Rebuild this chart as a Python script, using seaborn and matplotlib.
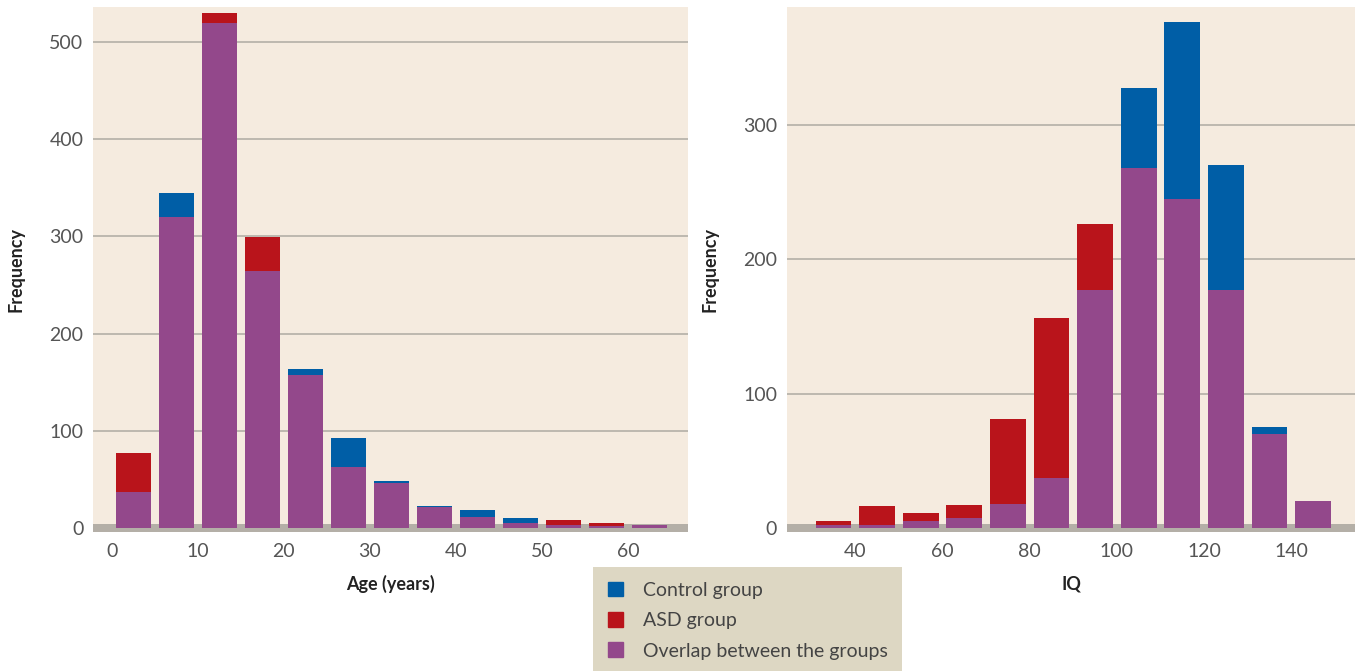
import numpy as np
import pandas as pd
import matplotlib
matplotlib.use("Agg")
import matplotlib.pyplot as plt
from matplotlib.patches import Patch
import seaborn as sns

# --- data (counts per bin) ---
age_centers = [2.5, 7.5, 12.5, 17.5, 22.5, 27.5, 32.5, 37.5, 42.5, 47.5, 52.5, 57.5, 62.5]
age_control = [37, 345, 520, 264, 163, 93, 48, 23, 18, 10, 3, 2, 3]
age_asd = [77, 320, 530, 299, 157, 63, 46, 21, 11, 5, 8, 5, 3]

iq_centers = [35, 45, 55, 65, 75, 85, 95, 105, 115, 125, 135, 145]
iq_control = [2, 2, 5, 7, 18, 37, 177, 328, 377, 270, 75, 20]
iq_asd = [5, 16, 11, 17, 81, 156, 226, 268, 245, 177, 70, 20]

age_xticks = [0, 10, 20, 30, 40, 50, 60]
age_yticks = [0, 100, 200, 300, 400, 500]
iq_xticks = [40, 60, 80, 100, 120, 140]
iq_yticks = [0, 100, 200, 300]

# colours
BG = "#f5ebdf"
BLUE = "#005ea6"
RED = "#b9141b"
PURPLE = "#93488b"
GRID = "#b9b4ac"
BAND = "#b4afa7"
TXT = "#555555"

sns.set_style("white")
plt.rcParams["font.family"] = ["Lato", "DejaVu Sans"]


def build_frame(centers, control, asd):
    df = pd.DataFrame({"center": centers, "control": control, "asd": asd})
    df["top"] = df[["control", "asd"]].max(axis=1)
    df["overlap"] = df[["control", "asd"]].min(axis=1)
    df["group"] = np.where(df["control"] >= df["asd"], "Control group", "ASD group")
    return df


def draw_panel(ax, df, xlim, ylim, xticks, yticks, xlabel):
    ax.set_facecolor(BG)
    pal = {"Control group": BLUE, "ASD group": RED}
    sns.barplot(data=df, x="center", y="top", hue="group", palette=pal,
                native_scale=True, dodge=False, width=0.82, saturation=1,
                errorbar=None, legend=False, linewidth=0, ax=ax, zorder=3)
    sns.barplot(data=df, x="center", y="overlap", color=PURPLE,
                native_scale=True, width=0.82, saturation=1,
                errorbar=None, linewidth=0, ax=ax, zorder=4)
    # gridlines and baseline band
    for t in yticks[1:]:
        ax.axhline(t, color=GRID, lw=1.3, zorder=1)
    ax.axhspan(ylim[0], -ylim[0], color=BAND, lw=0, zorder=2)
    ax.set_xlim(*xlim)
    ax.set_ylim(*ylim)
    ax.set_xticks(xticks)
    ax.set_yticks(yticks)
    ax.tick_params(axis="both", length=0, labelsize=14, labelcolor=TXT)
    ax.tick_params(axis="x", pad=8)
    ax.tick_params(axis="y", pad=7)
    for s in ax.spines.values():
        s.set_visible(False)
    ax.set_xlabel(xlabel, fontsize=13, fontweight="bold", color="#222222", labelpad=11)
    ax.set_ylabel("Frequency", fontsize=13, fontweight="bold", color="#222222", labelpad=18)


fig = plt.figure(figsize=(13.62, 6.71), dpi=100)
ax1 = fig.add_axes([0.0683, 0.2072, 0.4369, 0.7824])
ax2 = fig.add_axes([0.5778, 0.2072, 0.4170, 0.7824])

draw_panel(ax1, build_frame(age_centers, age_control, age_asd),
           (-2.2, 67), (-4.2, 536), age_xticks, age_yticks, "Age (years)")
draw_panel(ax2, build_frame(iq_centers, iq_control, iq_asd),
           (24.3, 154.6), (-3.1, 388), iq_xticks, iq_yticks, "IQ")

handles = [Patch(color=BLUE, label="Control group"),
           Patch(color=RED, label="ASD group"),
           Patch(color=PURPLE, label="Overlap between the groups")]
leg = fig.legend(handles=handles, loc="upper left",
                 bbox_to_anchor=(593 / 1362, 1 - 567 / 671),
                 frameon=True, fancybox=False, framealpha=1,
                 facecolor="#ddd7c3", edgecolor="none",
                 fontsize=14, handlelength=0.8, handleheight=0.8,
                 handletextpad=1.0, labelspacing=0.68,
                 borderpad=0.75, borderaxespad=0)
for t in leg.get_texts():
    t.set_color("#444444")

fig.savefig("out.png", dpi=100, facecolor="white")
